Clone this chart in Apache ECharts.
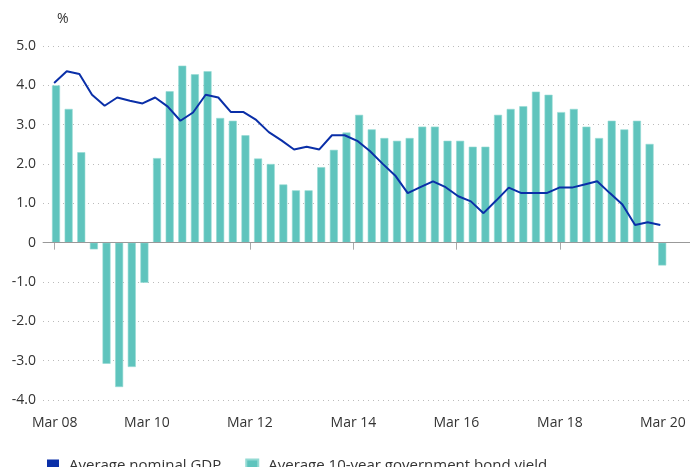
<!DOCTYPE html>
<html>
<head>
    <meta charset="utf-8">
    <script src="https://cdn.jsdelivr.net/npm/echarts@6/dist/echarts.min.js"></script>
    <style>
        html, body { margin: 0; padding: 0; background: #fff; }
    </style>
</head>
<body>
<div id="main" style="width: 690px; height: 467px"></div>
<script type="text/javascript">
    // quarterly, Mar 08 .. Mar 20 (index 0..48)
    var tickLabels = ['Mar 08', 'Mar 10', 'Mar 12', 'Mar 14', 'Mar 16', 'Mar 18', 'Mar 20'];
    var tickPos = [-0.1, 7.2, 15.35, 23.55, 31.7, 39.9, 48.05];   // where the source chart put its ticks
    var gdp = [4.06, 4.36, 4.29, 3.76, 3.48, 3.69, 3.61, 3.54, 3.69, 3.46, 3.10, 3.31, 3.76, 3.69, 3.32, 3.32,
        3.12, 2.81, 2.60, 2.37, 2.44, 2.37, 2.73, 2.73, 2.59, 2.33, 2.01, 1.71, 1.26, 1.41, 1.56, 1.41,
        1.18, 1.05, 0.75, 1.07, 1.40, 1.26, 1.26, 1.26, 1.40, 1.40, 1.48, 1.56, 1.26, 0.97, 0.45, 0.52, 0.45];
    var bondYield = [4.0, 3.4, 2.3, -0.17, -3.08, -3.67, -3.16, -1.02, 2.15, 3.85, 4.5, 4.28, 4.36, 3.17, 3.1, 2.73,
        2.14, 2.0, 1.48, 1.33, 1.33, 1.92, 2.36, 2.8, 3.25, 2.88, 2.66, 2.59, 2.66, 2.95, 2.95, 2.59,
        2.59, 2.44, 2.44, 3.25, 3.4, 3.47, 3.84, 3.76, 3.32, 3.4, 2.95, 2.66, 3.1, 2.88, 3.1, 2.51, -0.58];

    var font = 'Open Sans';

    var myChart = echarts.init(document.getElementById('main'));
    var option = {
        animation: false,
        textStyle: {fontFamily: font},
        grid: {left: 43, right: 0, top: 46, bottom: 67},
        legend: {
            data: ['Average nominal GDP', 'Average 10-year government bond yield'],
            left: 42, top: 453,
            icon: 'rect', itemWidth: 12, itemHeight: 12, itemGap: 24,
            textStyle: {fontSize: 15, color: '#333', fontFamily: font, padding: [0, 0, 0, 5]}
        },
        xAxis: {
            type: 'value', min: -1.03, max: 50.2,
            axisLine: {lineStyle: {color: '#aaa'}},
            axisTick: {show: true, length: 7, lineStyle: {color: '#aaa'}, customValues: tickPos},
            axisLabel: {
                customValues: tickPos, margin: 16, fontSize: 14, color: '#333',
                formatter: function (v) { return tickLabels[tickPos.indexOf(v)]; }
            },
            splitLine: {show: false}
        },
        yAxis: {
            type: 'value', min: -4, max: 5, interval: 1,
            name: '%', nameLocation: 'end', nameGap: 20,
            nameTextStyle: {align: 'left', fontSize: 14, color: '#333', padding: [0, 0, 0, 1]},
            axisLine: {show: false}, axisTick: {show: false},
            axisLabel: {
                margin: 7, fontSize: 14, color: '#333',
                formatter: function (v) { return v === 0 ? '0' : v.toFixed(1); }
            },
            splitLine: {lineStyle: {color: '#bbb', type: [1, 4]}}
        },
        series: [
            {
                name: 'Average 10-year government bond yield', type: 'bar',
                barWidth: 8,
                itemStyle: {color: '#5fc4bd', borderColor: '#93dad3', borderWidth: 0.6},
                data: bondYield.map(function (v, i) { return [i, v]; }),
                markLine: {
                    silent: true, symbol: 'none', label: {show: false},
                    lineStyle: {color: '#999', type: 'solid', width: 1},
                    data: [{yAxis: 0}]
                }
            },
            {
                name: 'Average nominal GDP', type: 'line',
                showSymbol: false, symbol: 'none',
                itemStyle: {color: '#0a2fa8'},
                lineStyle: {color: '#0a2fa8', width: 2},
                data: gdp.map(function (v, i) { return [i - 0.15, v]; })
            }
        ]
    };
    myChart.setOption(option);
</script>
</body>
</html>
